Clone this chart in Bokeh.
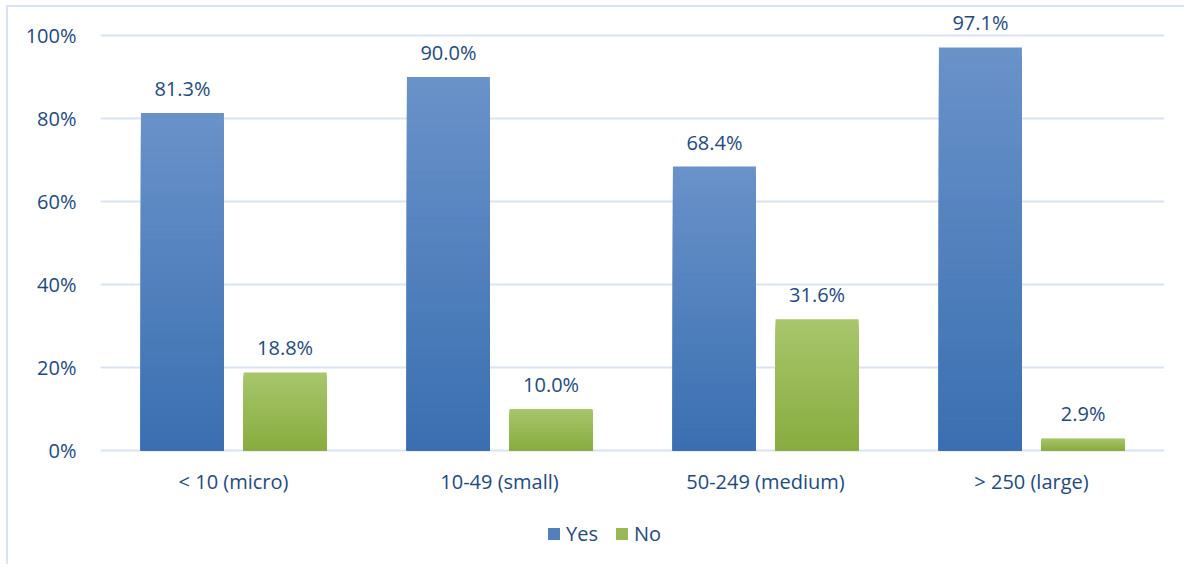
from bokeh.plotting import figure
from bokeh.models import (ColumnDataSource, Range1d, NumeralTickFormatter, FixedTicker,
                          LabelSet, Legend, LegendItem)
from bokeh.transform import dodge
from bokeh.core.properties import value
from bokeh.embed import file_html
from bokeh.resources import INLINE

categories = ["< 10 (micro)", "10-49 (small)", "50-249 (medium)", "> 250 (large)"]
yes_values = [0.813, 0.900, 0.684, 0.971]
no_values = [0.188, 0.100, 0.316, 0.029]
series_names = ["Yes", "No"]
y_ticks = [0, 0.2, 0.4, 0.6, 0.8, 1.0]

TEXT = "#234A7E"
GRID = "#D9E4F3"
FONT = "Open Sans"
FS = "20px"

# gradient (top colour, bottom colour) per series
grad_yes = ((0x6A, 0x92, 0xC9), (0x3A, 0x6F, 0xB1))
grad_no = ((0xA8, 0xC6, 0x6C), (0x88, 0xAC, 0x3F))

p = figure(x_range=categories, y_range=Range1d(-0.2795, 1.06), width=1178, height=559,
           output_backend="svg", toolbar_location=None,
           min_border_left=92, min_border_right=22, min_border_top=3, min_border_bottom=0)
p.outline_line_color = None
p.background_fill_color = "white"
p.border_fill_color = "white"
p.styles = {"margin-left": "6px", "margin-top": "5px",
            "border-left": "2px solid #D9E4F3", "border-top": "2px solid #D9E4F3"}

p.xgrid.grid_line_color = None
p.ygrid.grid_line_color = GRID
p.ygrid.grid_line_width = 2
p.ygrid.ticker = FixedTicker(ticks=y_ticks)
p.yaxis.ticker = FixedTicker(ticks=y_ticks)
p.yaxis.formatter = NumeralTickFormatter(format="0%")
p.xaxis.fixed_location = 0
for ax in (p.xaxis, p.yaxis):
    ax.axis_line_color = None
    ax.major_tick_line_color = None
    ax.minor_tick_line_color = None
    ax.major_label_text_font = FONT
    ax.major_label_text_font_size = FS
    ax.major_label_text_color = TEXT
p.yaxis.major_label_standoff = 18
p.xaxis.major_label_standoff = 12

N = 40
width = 0.312
offsets = [-0.192, 0.194]
legend_renderers = []
for vals, grad, off in zip([yes_values, no_values], [grad_yes, grad_no], offsets):
    top_c, bot_c = grad
    xs, tops, cols = [], [], []
    for j in range(N, 0, -1):
        f = (j - 0.5) / N
        c = tuple(int(round(bot_c[i] + (top_c[i] - bot_c[i]) * f)) for i in range(3))
        col = "#%02x%02x%02x" % c
        for cat, v in zip(categories, vals):
            xs.append(cat)
            tops.append(v * j / N)
            cols.append(col)
    src = ColumnDataSource(dict(x=xs, top=tops, color=cols))
    p.vbar(x=dodge("x", off, range=p.x_range), top="top", bottom=0, width=width,
           source=src, fill_color="color", line_color=None)
    mid = tuple(int(round((top_c[i] + bot_c[i]) / 2)) for i in range(3))
    r = p.vbar(x=[categories[0]], top=[0], width=0, fill_color="#%02x%02x%02x" % mid,
               line_color=None)
    legend_renderers.append(r)
    lsrc = ColumnDataSource(dict(x=categories, y=vals, t=["%.1f%%" % (v * 100) for v in vals]))
    p.add_layout(LabelSet(x=dodge("x", off, range=p.x_range), y="y", text="t", source=lsrc,
                          text_align="center", text_baseline="bottom", y_offset=11,
                          text_font=value(FONT), text_font_size=value(FS), text_color=TEXT))

legend = Legend(items=[LegendItem(label=n, renderers=[r]) for n, r in zip(series_names, legend_renderers)],
                orientation="horizontal", location=(446, 19),
                glyph_width=15, glyph_height=15, label_height=15, label_standoff=5, spacing=16,
                padding=0, margin=0, border_line_color=None, background_fill_alpha=0,
                label_text_font=FONT, label_text_font_size=FS, label_text_color=TEXT,
                label_text_baseline="middle")
p.add_layout(legend)

open("out.html", "w").write(file_html(p, INLINE))
